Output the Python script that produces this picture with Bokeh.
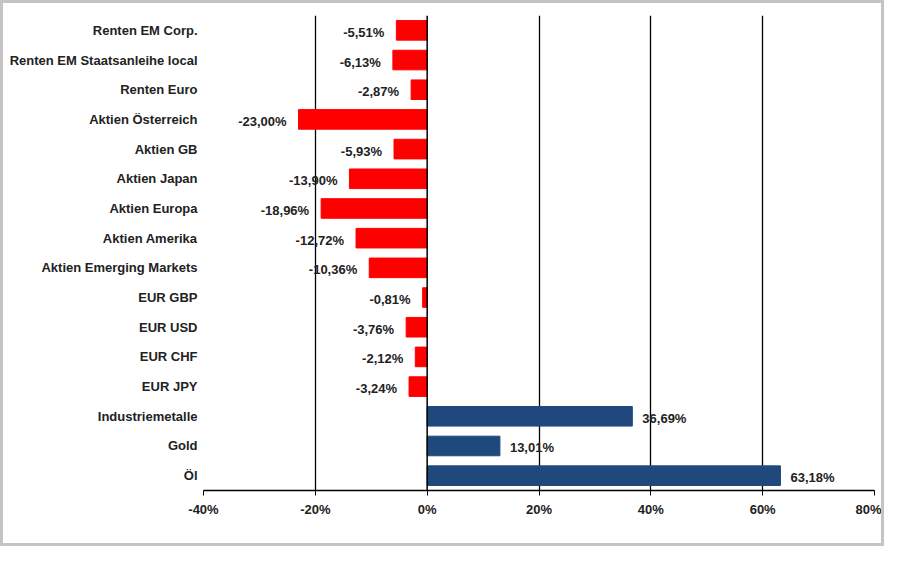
from bokeh.plotting import figure
from bokeh.models import ColumnDataSource, FactorRange, FixedTicker, PrintfTickFormatter, Span
from bokeh.embed import file_html
from bokeh.resources import INLINE
from bokeh.core.properties import value

categories = ["Renten EM Corp.", "Renten EM Staatsanleihe local", "Renten Euro",
              "Aktien Österreich", "Aktien GB", "Aktien Japan", "Aktien Europa",
              "Aktien Amerika", "Aktien Emerging Markets", "EUR GBP", "EUR USD",
              "EUR CHF", "EUR JPY", "Industriemetalle", "Gold", "Öl"]
values = [-5.51, -6.13, -2.87, -23.00, -5.93, -13.90, -18.96, -12.72, -10.36,
          -0.81, -3.76, -2.12, -3.24, 36.69, 13.01, 63.18]
x_ticks = [-40, -20, 0, 20, 40, 60, 80]
grid_ticks = [-20, 20, 40, 60]

NEG = "#ff0000"
POS = "#1f497d"
FONT = "Liberation Sans"
FS = "13px"

def fmt(v):
    return ("%.2f" % v).replace(".", ",") + "%"

colors = [NEG if v < 0 else POS for v in values]
src = ColumnDataSource(dict(cat=categories, val=values, color=colors))
neg = ColumnDataSource(dict(cat=[c for c, v in zip(categories, values) if v < 0],
                            val=[v for v in values if v < 0],
                            lab=[fmt(v) for v in values if v < 0]))
pos = ColumnDataSource(dict(cat=[c for c, v in zip(categories, values) if v >= 0],
                            val=[v for v in values if v >= 0],
                            lab=[fmt(v) for v in values if v >= 0]))

p = figure(width=884, height=546, output_backend="svg", toolbar_location=None,
           y_range=FactorRange(factors=categories[::-1], range_padding=0),
           x_range=(-40, 80),
           min_border_left=200, min_border_right=13, min_border_top=12, min_border_bottom=59)
p.outline_line_color = None
p.styles = {"border": "3px solid #c4c4c4"}

p.hbar(y="cat", left=0, right="val", height=0.66, fill_color="color", line_color="color", source=src)

p.text(x="val", y="cat", text="lab", source=neg, text_align="right", text_baseline="middle",
       x_offset=-12, y_offset=2, text_font=value(FONT), text_font_style="bold",
       text_font_size=FS, text_color="#222222")
p.text(x="val", y="cat", text="lab", source=pos, text_align="left", text_baseline="middle",
       x_offset=10, y_offset=2, text_font=value(FONT), text_font_style="bold",
       text_font_size=FS, text_color="#222222")

p.add_layout(Span(location=0, dimension="height", line_color="#000000", line_width=1.5))

p.xaxis.ticker = FixedTicker(ticks=x_ticks)
p.xaxis.formatter = PrintfTickFormatter(format="%d%%")
p.xaxis.axis_line_color = "#000000"
p.xaxis.axis_line_width = 1.5
p.xaxis.major_tick_in = 0
p.xaxis.major_tick_out = 5
p.xaxis.major_tick_line_color = "#000000"
p.xaxis.minor_tick_line_color = None
p.xaxis.major_label_text_font = FONT
p.xaxis.major_label_text_font_style = "bold"
p.xaxis.major_label_text_font_size = FS
p.xaxis.major_label_text_color = "#222222"
p.xaxis.major_label_standoff = 6

p.yaxis.axis_line_color = None
p.yaxis.major_tick_line_color = None
p.yaxis.major_tick_out = 0
p.yaxis.major_tick_in = 0
p.yaxis.minor_tick_line_color = None
p.yaxis.major_label_text_font = FONT
p.yaxis.major_label_text_font_style = "bold"
p.yaxis.major_label_text_font_size = FS
p.yaxis.major_label_text_color = "#222222"
p.yaxis.major_label_standoff = 6

p.xgrid.ticker = FixedTicker(ticks=grid_ticks)
p.xgrid.grid_line_color = "#000000"
p.xgrid.grid_line_width = 1.3
p.ygrid.grid_line_color = None

open("out.html", "w").write(file_html(p, INLINE))
